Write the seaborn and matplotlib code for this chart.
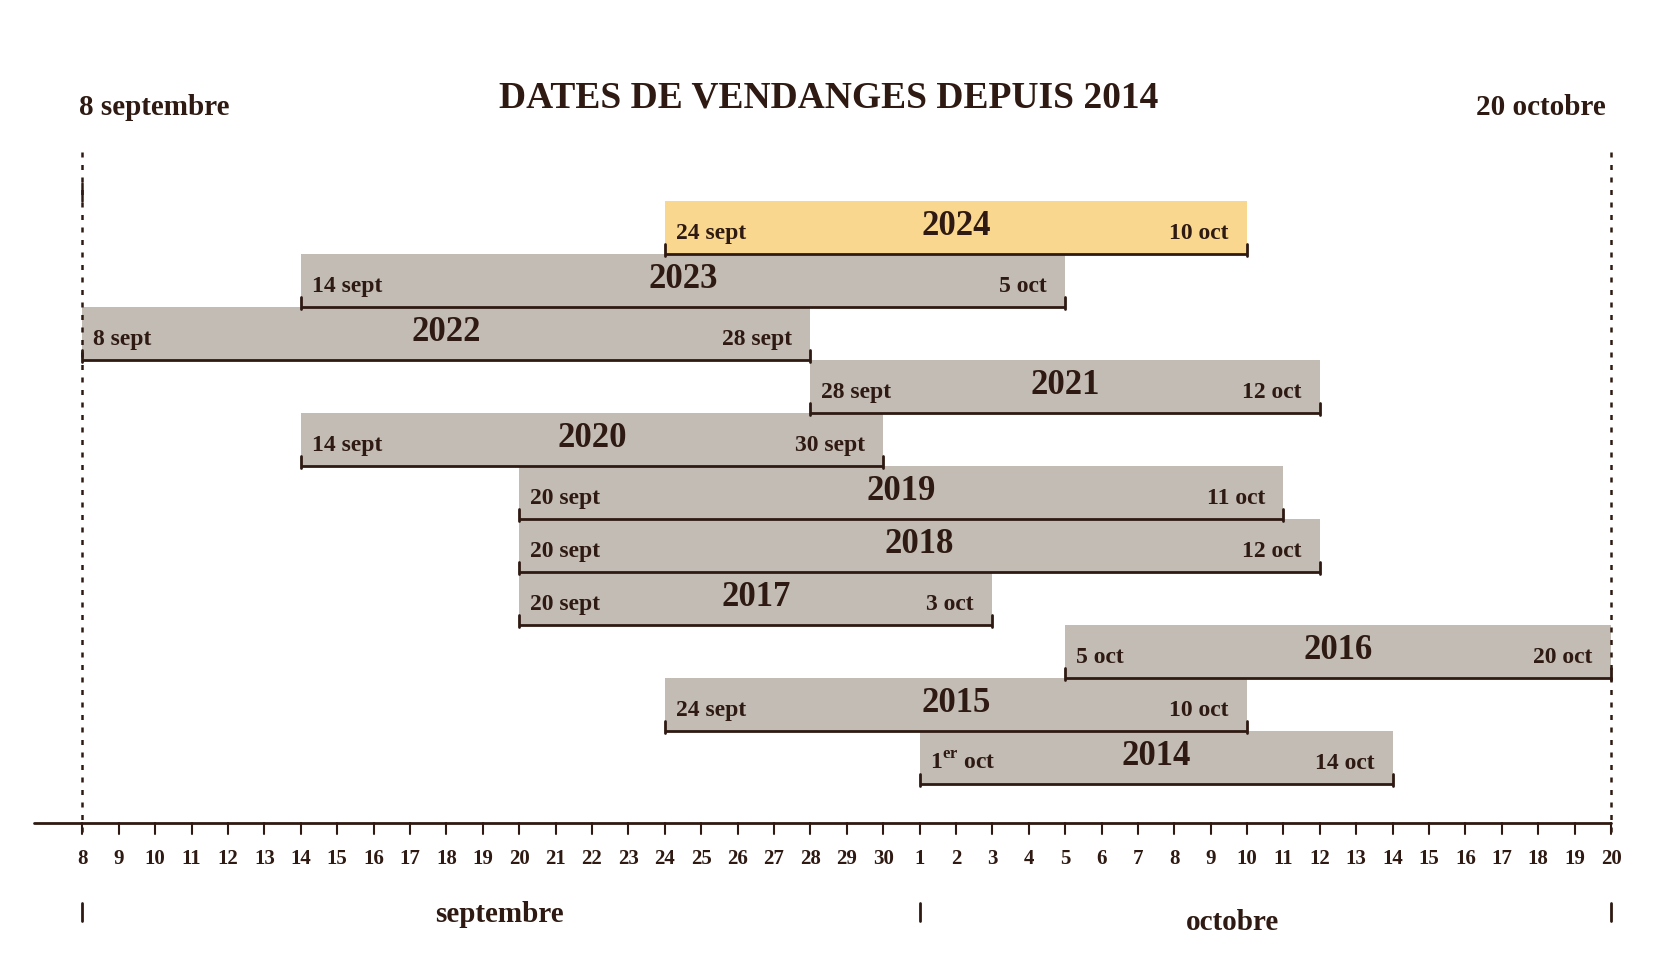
import matplotlib
matplotlib.use("Agg")
import matplotlib.pyplot as plt
import seaborn as sns
import pandas as pd

years = ["2024", "2023", "2022", "2021", "2020", "2019", "2018", "2017", "2016", "2015", "2014"]
start_day = [16, 6, 0, 20, 6, 12, 12, 12, 27, 16, 23]   # days since 8 sept
end_day = [32, 27, 20, 34, 22, 33, 34, 25, 42, 32, 36]
start_lbl = ["24 sept", "14 sept", "8 sept", "28 sept", "14 sept", "20 sept", "20 sept", "20 sept", "5 oct", "24 sept", "1$^{\\mathrm{er}}$ oct"]
end_lbl = ["10 oct", "5 oct", "28 sept", "12 oct", "30 sept", "11 oct", "12 oct", "3 oct", "20 oct", "10 oct", "14 oct"]
tick_labels = [str(d) for d in range(8, 31)] + [str(d) for d in range(1, 21)]

sns.set_theme(style="white")
plt.rcParams['font.family'] = ['Liberation Serif', 'DejaVu Serif']
plt.rcParams['mathtext.fontset'] = 'custom'
plt.rcParams['mathtext.rm'] = 'Liberation Serif:bold'

DARK = "#2E1A12"
GREY = "#C2BCB5"
GOLD = "#F9D78F"

fig = plt.figure(figsize=(16.7, 9.7), dpi=100)
ax = fig.add_axes([0, 0, 1, 1])
ax.set_xlim(-2.265, 43.62)
ax.set_ylim(14.0, -4.303)
ax.axis("off")

df = pd.DataFrame({"year": years, "start": start_day, "end": end_day})
df["dur"] = df["end"] - df["start"]
for k, r in df.iterrows():
    col = GOLD if k == 0 else GREY
    ax.barh(k, r["dur"], left=r["start"], height=1.0, color=col, edgecolor="none")
    yb = k + 0.5
    ax.plot([r["start"], r["end"]], [yb, yb], color=DARK, lw=2, solid_capstyle="butt")
    for xe in (r["start"], r["end"]):
        ax.plot([xe, xe], [yb - 0.18, yb + 0.05], color=DARK, lw=2)
    mid = (r["start"] + r["end"]) / 2
    ax.text(mid, k - 0.02, r["year"], ha="center", va="center", fontsize=25, fontweight="bold", color=DARK)
    ax.text(r["start"] + 0.3, k + 0.1, start_lbl[k], ha="left", va="center", fontsize=17, fontweight="bold", color=DARK)
    ax.text(r["end"] - 0.5, k + 0.1, end_lbl[k], ha="right", va="center", fontsize=17, fontweight="bold", color=DARK)

# axis
ax.plot([-1.32, 42], [11.25, 11.25], color=DARK, lw=2)
for d, lab in enumerate(tick_labels):
    ax.plot([d, d], [11.25, 11.45], color=DARK, lw=1.5)
    ax.text(d, 11.9, lab, ha="center", va="center", fontsize=15, fontweight="bold", color=DARK)
for xd in (0, 42):
    ax.plot([xd, xd], [-1.414, 11.45], color=DARK, lw=1.8, ls=(0, (2, 3)))
ax.plot([0, 0], [-0.83, -0.5], color=DARK, lw=1.8)
for xd in (0, 23, 42):
    ax.plot([xd, xd], [12.76, 13.1], color=DARK, lw=2)
ax.text(11.45, 12.95, "septembre", ha="center", va="center", fontsize=21, fontweight="bold", color=DARK)
ax.text(31.6, 13.1, "octobre", ha="center", va="center", fontsize=21, fontweight="bold", color=DARK)

ax.text(20.5, -2.45, "DATES DE VENDANGES DEPUIS 2014", ha="center", va="center", fontsize=27, fontweight="bold", color=DARK)
ax.text(-0.1, -2.28, "8 septembre", ha="left", va="center", fontsize=21, fontweight="bold", color=DARK)
ax.text(41.85, -2.28, "20 octobre", ha="right", va="center", fontsize=21, fontweight="bold", color=DARK)

fig.savefig("out.png", dpi=100, facecolor="white")
